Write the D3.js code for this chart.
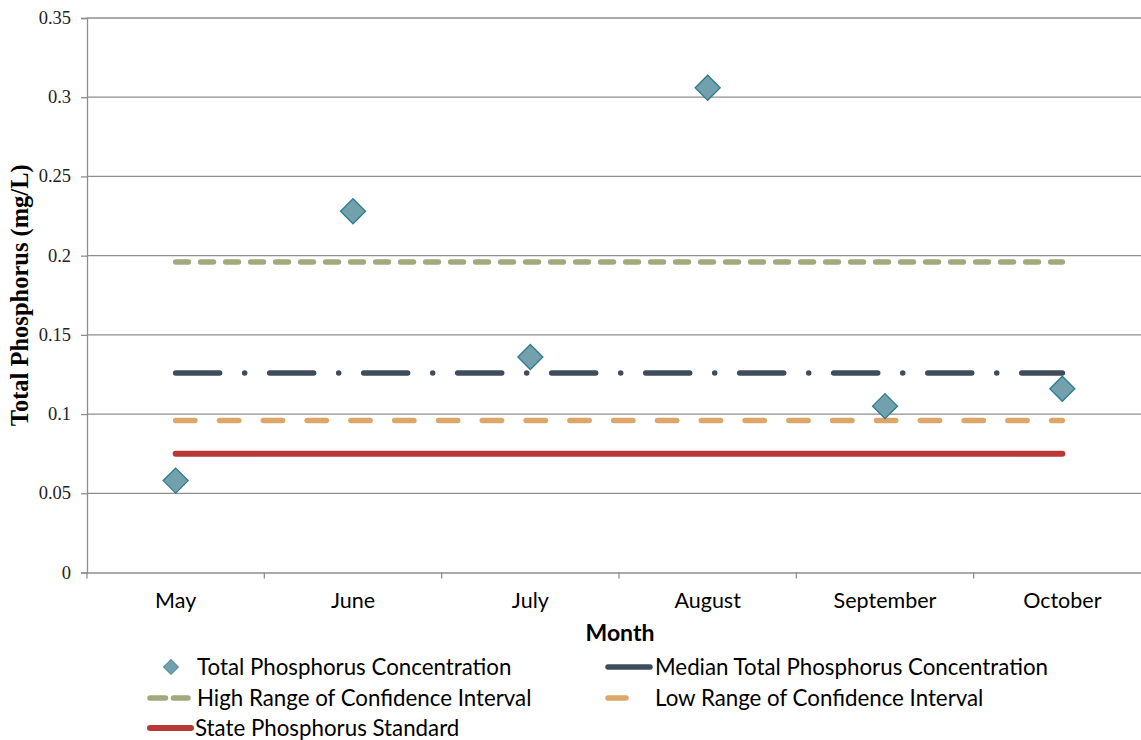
<!DOCTYPE html>
<html><head><meta charset="utf-8">
<script src="https://cdn.jsdelivr.net/npm/d3@7"></script>
<style>body{margin:0;background:#fff}svg{display:block}
.ytl{font-family:'Liberation Serif','Times New Roman',serif !important;}
</style>
</head><body>
<svg id="c" width="1141" height="740"></svg>
<script>
const months = ["May","June","July","August","September","October"];
const tpValues = [0.058, 0.228, 0.136, 0.306, 0.105, 0.116];
const medianValue = 0.126;
const highCI = 0.196;
const lowCI = 0.096;
const stateStandard = 0.075;
const yTicks = [0,0.05,0.1,0.15,0.2,0.25,0.3,0.35];
const yTickLabels = ["0","0.05","0.1","0.15","0.2","0.25","0.3","0.35"];
const legendLabels = ["Total Phosphorus Concentration","Median Total Phosphorus Concentration","High Range of Confidence Interval","Low Range of Confidence Interval","State Phosphorus Standard"];

(function(){
const svg = d3.select("#c");
const sans = "Lato, 'Open Sans', sans-serif";
const serif = "'Liberation Serif', 'Times New Roman', serif";
const pL = 87, pR = 1151, pT = 18, pB = 572.5;

const x = d3.scaleBand().domain(months).range([pL, pR]);
const y = d3.scaleLinear().domain([0, 0.35]).range([pB, pT]);
const cx = m => x(m) + x.bandwidth()/2;

// gridlines
svg.append("g").selectAll("line").data(yTicks.slice(1)).join("line")
  .attr("x1", pL).attr("x2", 1141).attr("y1", d=>y(d)).attr("y2", d=>y(d))
  .attr("stroke", "#8e8e8e").attr("stroke-width", 1.3);

// y axis
const ya = svg.append("g").attr("transform", `translate(${pL},0)`)
  .call(d3.axisLeft(y).tickValues(yTicks).tickFormat((d,i)=>yTickLabels[i]).tickSizeOuter(0).tickSize(6).tickPadding(10));
ya.attr("font-family", serif).attr("font-size", 18.5);
ya.select(".domain").attr("stroke","#8e8e8e").attr("stroke-width",1.3);
ya.selectAll(".tick line").attr("stroke","#8e8e8e").attr("stroke-width",1.3);
ya.selectAll(".tick text").attr("class","ytl").attr("fill","#222").attr("dy","0.3em");

// x axis
const xa = svg.append("g").attr("transform", `translate(0,${pB})`)
  .call(d3.axisBottom(x).tickSize(0).tickPadding(20));
xa.attr("font-family", sans).attr("font-size", 21.5);
xa.select(".domain").attr("stroke","#8e8e8e").attr("stroke-width",1.3);
xa.selectAll(".tick text").attr("fill","#000");
const bounds = months.map(m => x(m));
svg.append("g").selectAll("line").data(bounds).join("line")
  .attr("x1", d=>d).attr("x2", d=>d).attr("y1", pB).attr("y2", pB+6)
  .attr("stroke","#8e8e8e").attr("stroke-width",1.3);

// titles
svg.append("text").attr("x", 620).attr("y", 641).attr("text-anchor","middle")
  .attr("font-family", sans).attr("font-weight","bold").attr("font-size", 23).text("Month");
svg.append("text").attr("transform", `translate(28,${(pT+pB)/2}) rotate(-90)`).attr("text-anchor","middle")
  .attr("font-family", serif).attr("font-weight","bold").attr("font-size", 24.5).text("Total Phosphorus (mg/L)");

// reference lines
const x0 = cx(months[0]), x1 = cx(months[months.length-1]);
const lineStyles = [
  {v: stateStandard, color:"#b83838", dash:null, w:6},
  {v: lowCI, color:"#dca769", dash:"19.3,24.5", w:5.5},
  {v: highCI, color:"#a1aa7d", dash:"12.8,12.2", w:5.5},
  {v: medianValue, color:"#3f4c5d", dash:"44,25,0.01,25", w:5.5}
];
svg.append("g").selectAll("line").data(lineStyles).join("line")
  .attr("x1", x0).attr("x2", x1).attr("y1", d=>y(d.v)).attr("y2", d=>y(d.v))
  .attr("stroke", d=>d.color).attr("stroke-width", d=>d.w).attr("stroke-linecap","round")
  .attr("stroke-dasharray", d=>d.dash);

// points
const diamond = (s) => `M0,${-s}L${s},0L0,${s}L${-s},0Z`;
svg.append("g").selectAll("path").data(tpValues).join("path")
  .attr("transform", (d,i)=>`translate(${cx(months[i])},${y(d)})`)
  .attr("d", diamond(12.5)).attr("fill","#72a0ad").attr("stroke","#2f7a8e").attr("stroke-width",1.3);

// legend
const lg = svg.append("g").attr("font-family", sans).attr("font-size", 22.3).attr("fill","#000");
lg.append("path").attr("transform","translate(171,667)").attr("d", diamond(7.5)).attr("fill","#72a0ad").attr("stroke","#2f7a8e").attr("stroke-width",1);
lg.append("text").attr("x",197).attr("y",674.5).text(legendLabels[0]);
lg.append("line").attr("x1",608).attr("x2",650).attr("y1",667).attr("y2",667).attr("stroke","#3f4c5d").attr("stroke-width",5.5).attr("stroke-linecap","round");
lg.append("text").attr("x",655).attr("y",674.5).text(legendLabels[1]);
lg.append("line").attr("x1",150).attr("x2",188).attr("y1",698).attr("y2",698).attr("stroke","#a1aa7d").attr("stroke-width",5.5).attr("stroke-linecap","round").attr("stroke-dasharray","15.5,8");
lg.append("text").attr("x",197).attr("y",705.5).text(legendLabels[2]);
lg.append("line").attr("x1",608).attr("x2",626).attr("y1",698).attr("y2",698).attr("stroke","#dca769").attr("stroke-width",5.5).attr("stroke-linecap","round");
lg.append("text").attr("x",655).attr("y",705.5).text(legendLabels[3]);
lg.append("line").attr("x1",150).attr("x2",191).attr("y1",728).attr("y2",728).attr("stroke","#b83838").attr("stroke-width",6).attr("stroke-linecap","round");
lg.append("text").attr("x",195).attr("y",735.5).text(legendLabels[4]);
})();
</script>
</body></html>
